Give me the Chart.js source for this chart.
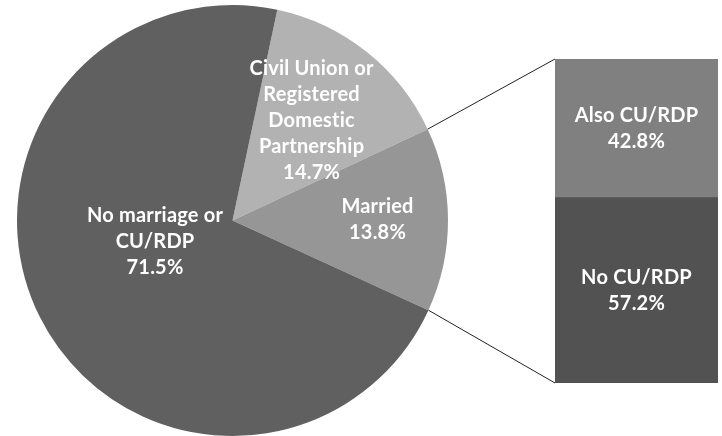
<!DOCTYPE html>
<html>
<head>
<meta charset="utf-8">
<script src="https://cdn.jsdelivr.net/npm/chart.js@4"></script>
<style>
  body { margin: 0; background: #fff; }
  #wrap { position: relative; width: 722px; height: 436px; overflow: hidden; }
  canvas { position: absolute; }
  #pieChart { left: 0; top: 0; }
  #barChart { left: 555px; top: 59px; }
  #overlay { left: 0; top: 0; pointer-events: none; }
</style>
</head>
<body>
<div id="wrap">
  <canvas id="pieChart" width="465" height="436"></canvas>
  <canvas id="barChart" width="163" height="324"></canvas>
  <canvas id="overlay" width="722" height="436"></canvas>
</div>
<script>
// pie: clockwise from the top-right wedge
const pieLabels = [
  ["Civil Union or", "Registered", "Domestic", "Partnership"],
  ["Married"],
  ["No marriage or", "CU/RDP"]
];
const pieValues = [14.7, 13.8, 71.5];
const pieColors = ["#b2b2b2", "#969696", "#606060"];

// breakdown bar of the "Married" slice (bottom first)
const barLabels = [["No CU/RDP"], ["Also CU/RDP"]];
const barValues = [57.2, 42.8];
const barColors = ["#525252", "#808080"];

// label placement: fraction of radius along mid angle, plus a pixel nudge
const labelFrac = [0.59, 0.673, 0.366];
const labelNudge = [[0, 0], [0, 0], [-7, -14]];

const FONT = "bold 20px Lato, 'Open Sans', sans-serif";
const LINE_H = 26;

function drawLines(ctx, lines, cx, cy) {
  ctx.save();
  ctx.fillStyle = "#fff";
  ctx.font = FONT;
  ctx.textAlign = "center";
  ctx.textBaseline = "middle";
  if ("letterSpacing" in ctx) ctx.letterSpacing = "0.2px"; // no "st" ligature
  let y0 = cy - (lines.length - 1) * LINE_H / 2;
  lines.forEach((t, i) => ctx.fillText(t, cx, y0 + i * LINE_H));
  ctx.restore();
}

const pieLabelPlugin = {
  id: "pieLabels",
  afterDatasetsDraw(chart) {
    const ctx = chart.ctx;
    chart.getDatasetMeta(0).data.forEach((arc, i) => {
      const mid = (arc.startAngle + arc.endAngle) / 2;
      const d = arc.outerRadius * labelFrac[i];
      const cx = arc.x + Math.cos(mid) * d + labelNudge[i][0];
      const cy = arc.y + Math.sin(mid) * d + labelNudge[i][1];
      drawLines(ctx, pieLabels[i].concat([pieValues[i].toFixed(1) + "%"]), cx, cy);
    });
  }
};

const barLabelPlugin = {
  id: "barLabels",
  afterDatasetsDraw(chart) {
    const ctx = chart.ctx;
    chart.data.datasets.forEach((ds, i) => {
      const el = chart.getDatasetMeta(i).data[0];
      const cy = (el.y + el.base) / 2;
      drawLines(ctx, barLabels[i].concat([barValues[i].toFixed(1) + "%"]), el.x, cy);
    });
  }
};

const pie = new Chart(document.getElementById("pieChart"), {
  type: "pie",
  data: {
    labels: pieLabels.map(l => l.join(" ")),
    datasets: [{
      data: pieValues,
      backgroundColor: pieColors,
      borderWidth: 0,
      hoverOffset: 0
    }]
  },
  options: {
    responsive: false,
    animation: false,
    rotation: 12,
    layout: { padding: { left: 17, right: 17, top: 5, bottom: 0 } },
    plugins: { legend: { display: false }, tooltip: { enabled: false } }
  },
  plugins: [pieLabelPlugin]
});

const bar = new Chart(document.getElementById("barChart"), {
  type: "bar",
  data: {
    labels: [""],
    datasets: barValues.map((v, i) => ({
      data: [v],
      backgroundColor: barColors[i],
      borderWidth: 0,
      barPercentage: 1,
      categoryPercentage: 1
    }))
  },
  options: {
    responsive: false,
    animation: false,
    layout: { padding: 0 },
    scales: {
      x: { stacked: true, display: false },
      y: { stacked: true, display: false, min: 0, max: 100 }
    },
    plugins: { legend: { display: false }, tooltip: { enabled: false } }
  },
  plugins: [barLabelPlugin]
});

// connector lines from the "Married" wedge to the bar
function drawConnectors() {
  const ctx = document.getElementById("overlay").getContext("2d");
  ctx.clearRect(0, 0, 722, 436);
  const arc = pie.getDatasetMeta(0).data[1];
  const barCanvas = document.getElementById("barChart");
  const ox = barCanvas.offsetLeft, oy = barCanvas.offsetTop;
  const bottomEl = bar.getDatasetMeta(0).data[0];
  const topEl = bar.getDatasetMeta(1).data[0];
  const left = ox + bottomEl.x - bottomEl.width / 2;
  const p1 = [arc.x + Math.cos(arc.startAngle) * arc.outerRadius, arc.y + Math.sin(arc.startAngle) * arc.outerRadius];
  const p2 = [arc.x + Math.cos(arc.endAngle) * arc.outerRadius, arc.y + Math.sin(arc.endAngle) * arc.outerRadius];
  ctx.strokeStyle = "#222";
  ctx.lineWidth = 1;
  ctx.beginPath();
  ctx.moveTo(p1[0], p1[1]);
  ctx.lineTo(left, oy + topEl.y);
  ctx.moveTo(p2[0], p2[1]);
  ctx.lineTo(left, oy + bottomEl.base);
  ctx.stroke();
}
drawConnectors();
</script>
</body>
</html>
